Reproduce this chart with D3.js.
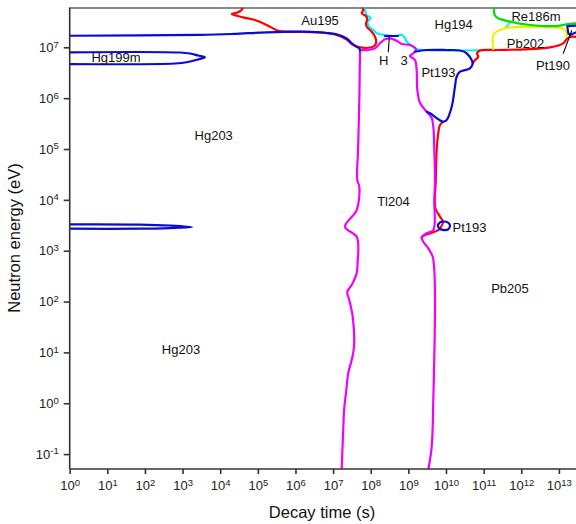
<!DOCTYPE html>
<html><head><meta charset="utf-8">
<script src="https://cdn.jsdelivr.net/npm/d3@7"></script>
<style>body{margin:0;background:#fff} svg{display:block;font-family:"Liberation Sans",Arial,sans-serif}</style>
</head><body><svg id="c" width="576" height="524"></svg>
<script>
// ---- tick exponents ----
const xTickExps = [0,1,2,3,4,5,6,7,8,9,10,11,12,13];
const yTickExps = [-1,0,1,2,3,4,5,6,7];

// ---- boundary curves: [decay time (s), neutron energy (eV)] ----
const blueHg203Top = [[1,1.69e7],[2.9e3,1.75e7],[2.19e4,1.83e7],[1.72e5,1.97e7],[1.32e6,2.03e7],[4.49e6,1.97e7],[1.25e7,1.80e7],[2.3e7,1.50e7],[3.12e7,1.20e7],[4.06e7,1.04e7],[4.97e7,9.55e6],[5.19e7,8.6e6]];
const redAu195 = [[4.03e4,6.3e7],[3.72e4,5.42e7],[2.74e4,4.79e7],[2.02e4,4.52e7],[4.03e4,3.89e7],[8.4e4,3.44e7],[1.72e5,2.75e7],[3.49e5,2.12e7],[7.14e5,2.03e7],[4.49e6,1.97e7],[1.25e7,1.75e7],[2.3e7,1.42e7],[3.12e7,1.16e7],[4.31e7,1.04e7],[7.48e7,9.7e6],[1.17e8,1.03e7],[1.38e8,1.2e7],[1.3e8,1.62e7],[1.06e8,2.03e7],[7.81e7,2.54e7],[7.48e7,2.97e7],[8.1e7,3.56e7],[7.48e7,4.13e7],[5.75e7,4.67e7],[6.34e7,5.42e7],[5.86e7,6.3e7]];
const magentaTl204Left = [[5.19e7,8.85e6],[4.97e7,9.2e5],[4.6e7,9.55e4],[4.39e7,2.45e4],[4.97e7,1.82e4],[4.24e7,6.3e3],[2.07e7,2.97e3],[4.24e7,1.88e3],[4.68e7,1.03e3],[4.51e7,656],[4.24e7,364],[3.12e7,211],[2.38e7,156],[2.69e7,107],[3.32e7,50.4],[3.59e7,12.9],[3.12e7,7.1],[2.53e7,3.94],[2.2e7,1.59],[1.98e7,0.807],[1.87e7,0.346],[1.69e7,0.05]];
const magentaTl204Right = [[5.19e7,8.85e6],[8.61e7,8.85e6],[1.3e8,9.55e6],[1.76e8,1.2e7],[2.39e8,1.44e7],[3.25e8,1.5e7],[4.9e8,1.35e7],[6.65e8,1.16e7],[1.1e9,1.11e7],[1.6e9,9.14e6],[1.35e9,7.62e6],[1.1e9,6.75e6],[1.5e9,5.62e6],[1.66e9,3.58e6],[1.73e9,1.45e6],[2.04e9,8.03e5],[3.07e9,5.42e5],[4.17e9,4.07e5],[4.6e9,2.75e5],[4.89e9,9.55e4],[5.1e9,2.45e4],[4.89e9,9.93e3],[4.6e9,2.55e3],[3.07e9,2.2e3],[2.26e9,1.84e3],[2.49e9,1.5e3],[3.39e9,1.11e3],[4.43e9,762],[4.89e9,417],[5.1e9,107],[4.6e9,1.16],[4.17e9,0.14],[3.39e9,0.05]];
const cyanHg194 = [[6.62e7,6.3e7],[7.81e7,4.32e7],[9.98e7,3.72e7],[8.2e7,3.19e7],[9.0e7,2.54e7],[1.17e8,2.19e7],[1.47e8,1.88e7],[2.39e8,1.75e7],[4.42e8,1.67e7],[6.65e8,1.75e7],[8.15e8,1.52e7],[9.04e8,1.29e7],[1.33e9,1.03e7],[1.66e9,9.14e6],[2.45e9,8.85e6],[2.35e10,8.65e6],[1.57e11,8.85e6]];
const bluePt193Loop = [[1.5e9,8.18e6],[3.07e9,8.85e6],[1.04e10,8.85e6],[2.35e10,8.65e6],[3.55e10,7.62e6],[5.13e10,4.84e6],[4.35e10,3.86e6],[2.35e10,3.31e6],[1.92e10,2.64e6],[1.73e10,1.68e6],[1.42e10,6.79e5],[1.04e10,3.72e5],[8.48e9,3.44e5],[3.76e9,5.04e5],[3.07e9,5.42e5]];
const redPb205 = [[8.48e9,3.44e5],[6.93e9,2.96e5],[6.24e9,2.06e5],[5.66e9,9.55e4],[5.36e9,2.45e4],[5.2e9,6.92e3],[6.93e9,4.67e3],[8.32e9,3.72e3],[7.36e9,2.92e3],[6.24e9,2.55e3],[2.49e9,1.95e3],[2.26e9,1.78e3]];
const bluePt193Small = [[6.12e9,3.06e3],[6.93e9,3.59e3],[8.85e9,3.75e3],[1.17e10,3.51e3],[1.28e10,3.06e3],[1.13e10,2.61e3],[8.85e9,2.55e3],[6.93e9,2.67e3]];
const blueHg199m = [[1,7.98e6],[853,7.91e6],[1.57e3,7.55e6],[2.57e3,6.9e6],[3.94e3,6.36e6],[2.57e3,5.75e6],[1.39e3,5.14e6],[629,4.8e6],[1,4.69e6]];
const blueLowLens = [[1,3.3e3],[73.8,3.27e3],[463,3.13e3],[1.78e3,2.92e3],[463,2.79e3],[73.8,2.71e3],[1,2.71e3]];
const greenRe186m = [[1.89e11,6.3e7],[1.97e11,4.32e7],[2.45e11,3.72e7],[5.02e11,3.19e7],[1.71e12,2.75e7],[8.75e12,2.62e7],[1.78e13,2.87e7],[3.22e13,2.96e7]];
const cyanLink = [[5.02e11,3.19e7],[4.45e11,2.75e7],[3.7e11,2.37e7]];
const yellowPb202 = [[1.81e11,9.27e6],[1.74e11,1.2e7],[1.81e11,1.75e7],[2.22e11,2.03e7],[3.7e11,2.37e7],[6.04e11,2.47e7],[3.15e12,2.54e7],[1.19e13,2.37e7],[1.55e13,2.03e7],[1.61e13,1.62e7]];
const redRight = [[5.13e10,4.84e6],[5.9e10,5.62e6],[7.22e10,6.53e6],[6.67e10,7.62e6],[8.01e10,8.65e6],[2.22e11,8.85e6],[1.13e12,9.14e6],[5.79e12,1e7],[1.31e13,1.2e7],[1.67e13,1.5e7],[2.19e13,1.62e7],[3.22e13,1.57e7]];
const bluePt190 = [[3.22e13,2.69e7],[1.67e13,2.62e7],[1.78e13,1.88e7],[1.97e13,1.75e7],[3.22e13,2.05e7]];
const blueH3 = [[2.39e8,1.67e7],[5.31e8,1.67e7]];
const pointerH3 = [[3.11e8,1.57e7],[2.93e8,8.18e6]];
const pointerPt190 = [[2.19e13,2.12e7],[1.31e13,7.62e6]];

// ---- region labels: [text, time, energy] ----
const regionLabels = [
  ["Au195",4.5e6,2.75e7],["Hg194",1.6e10,2.34e7],["Re186m",2.47e12,3.29e7],
  ["Pb202",1.3e12,9.7e6],["Pt190",6.98e12,3.66e6],["Hg199m",17,5.14e6],
  ["H",2.21e8,4.59e6],["3",7.75e8,4.59e6],["Pt193",6.28e9,2.61e6],
  ["Hg203",6.71e3,1.5e5],["Tl204",4.0e8,7.57e3],["Pt193",4.22e10,2.33e3],
  ["Pb205",5.02e11,147],["Hg203",908,9.3]
];

const W = 576, H = 524;
const L = 69.7, T = 7.5, B = 469, R = 577.7;
const svg = d3.select("#c");
const x = d3.scaleLog().domain([1, Math.pow(10,13.5)]).range([L, R]);
const y = d3.scaleLog().domain([Math.pow(10,-1.293), Math.pow(10,7.783)]).range([B, T]);

svg.append("defs").append("clipPath").attr("id","clip")
  .append("rect").attr("x",L).attr("y",T).attr("width",R-L).attr("height",B-T);

// frame (top border gray)
svg.append("line").attr("x1",L).attr("x2",W).attr("y1",T+0.5).attr("y2",T+0.5)
  .attr("stroke","#8a8a8a").attr("stroke-width",2);

const g = svg.append("g").attr("clip-path","url(#clip)");
const line = d3.line().x(d=>x(d[0])).y(d=>y(d[1])).curve(d3.curveCatmullRom.alpha(0.5));
const lineLin = d3.line().x(d=>x(d[0])).y(d=>y(d[1]));
const closed = d3.line().x(d=>x(d[0])).y(d=>y(d[1])).curve(d3.curveCatmullRomClosed.alpha(0.5));

function draw(data, color, w, gen){
  g.append("path").attr("d",(gen||line)(data)).attr("fill","none")
   .attr("stroke",color).attr("stroke-width",w||2.2)
   .attr("stroke-linejoin","round").attr("stroke-linecap","round");
}
draw(cyanHg194,"#00f0ff");
draw(cyanLink,"#40f0c0");
draw(redAu195,"#ff0000");
draw(redPb205,"#ff0000");
draw(redRight,"#ff0000");
draw(yellowPb202,"#f0f000");
draw(greenRe186m,"#00e000");
draw(magentaTl204Left,"#f000ff");
draw(magentaTl204Right,"#f000ff");
draw(blueHg203Top,"#0a0ad8");
draw(blueHg199m,"#0a0ad8");
draw(blueLowLens,"#0a0ad8");
draw(bluePt193Loop,"#0a0ad8");
draw(bluePt193Small,"#0a0ad8",2.2,closed);
draw(bluePt190,"#0a0ad8",2.2,lineLin);
draw(blueH3,"#0a0ad8",2.2,lineLin);
draw(pointerH3,"#000",1.1,lineLin);
draw(pointerPt190,"#000",1.1,lineLin);

// axes
function supLabel(sel, exp){
  sel.text(null);
  sel.append("tspan").text("10");
  sel.append("tspan").attr("dy","-0.45em").attr("font-size","9.5px").text(exp<0?"-"+(-exp):exp);
}
const xAxis = d3.axisBottom(x).tickValues(xTickExps.map(e=>Math.pow(10,e))).tickSize(5).tickPadding(7).tickFormat("");
const gx = svg.append("g").attr("transform",`translate(0,${B})`).call(xAxis);
gx.selectAll(".tick text").each(function(d,i){ supLabel(d3.select(this), xTickExps[i]); })
  .attr("font-size","13px").attr("fill","#222").attr("font-family","Liberation Sans, Arial, sans-serif");
gx.select(".domain").attr("d",`M${L},0H${W}`);
const yAxis = d3.axisLeft(y).tickValues(yTickExps.map(e=>Math.pow(10,e))).tickSize(6).tickPadding(5).tickFormat("");
const gy = svg.append("g").attr("transform",`translate(${L},0)`).call(yAxis);
gy.selectAll(".tick text").each(function(d,i){ supLabel(d3.select(this), yTickExps[i]); })
  .attr("font-size","13px").attr("fill","#222").attr("font-family","Liberation Sans, Arial, sans-serif");
gy.select(".domain").attr("d",`M0,${T}V${B}`);
[gx,gy].forEach(a=>{ a.selectAll(".domain,.tick line").attr("stroke","#333").attr("stroke-width",1.6); });

// labels
svg.append("g").selectAll("text").data(regionLabels).join("text")
  .attr("x",d=>x(d[1])).attr("y",d=>y(d[2])).attr("text-anchor","middle")
  .attr("font-size","13px").attr("fill","#111").text(d=>d[0]);

svg.append("text").attr("x",322).attr("y",518).attr("text-anchor","middle")
  .attr("font-size","16.5px").attr("fill","#111").text("Decay time (s)");
svg.append("text").attr("transform",`translate(20,238) rotate(-90)`).attr("text-anchor","middle")
  .attr("font-size","16.5px").attr("fill","#111").text("Neutron energy (eV)");
</script></body></html>
